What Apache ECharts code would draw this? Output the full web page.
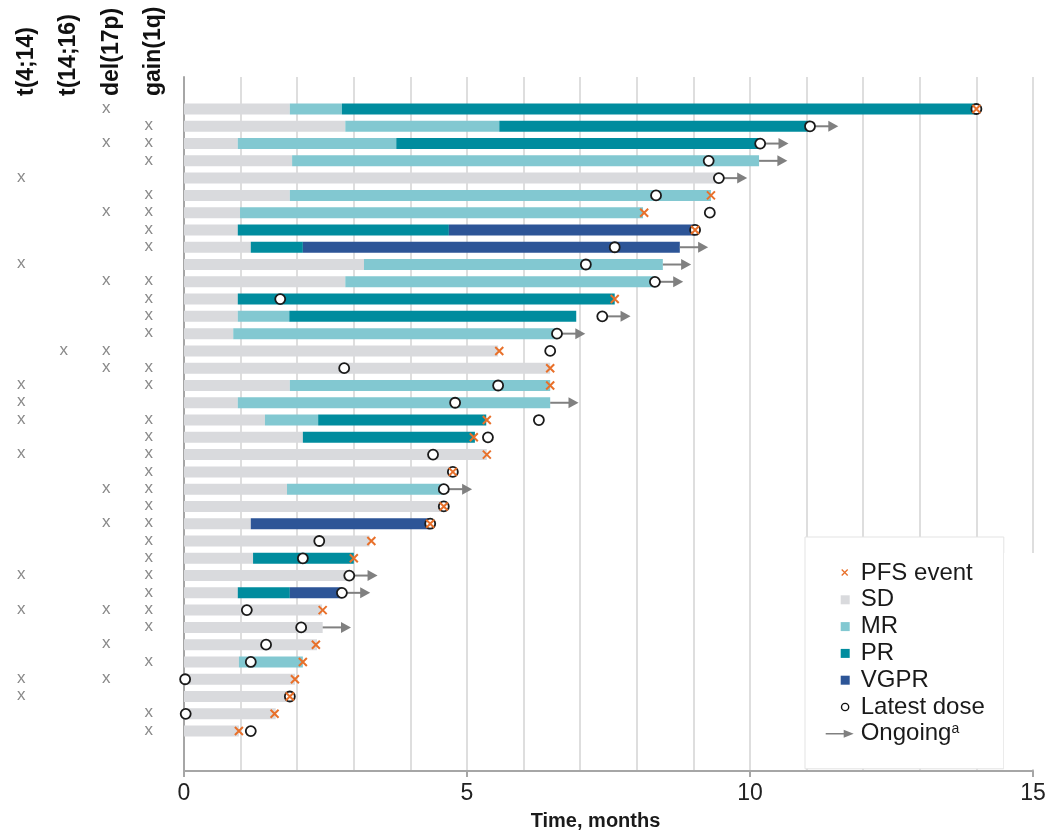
<!DOCTYPE html>
<html lang="en">
<head>
<meta charset="UTF-8">
<title>Swimmer plot</title>
<style>
  html, body { margin: 0; padding: 0; background: #fff; }
  #main { width: 1048px; height: 833px; }
</style>
</head>
<body>
<div id="main"></div>
<script src="https://cdn.jsdelivr.net/npm/echarts@6/dist/echarts.min.js"></script>
<script>
// one entry per patient, top row first; times in months, null = not reached
var sdEnd   = [1.87, 2.85, 0.95, 1.91, 9.45, 1.87, 0.99, 0.95, 1.18, 3.18, 2.85, 0.95, 0.95, 0.87, 5.55, 6.47, 1.87, 0.95, 1.43,
               2.10, 5.35, 4.75, 1.82, 4.59, 1.18, 3.28, 1.22, 2.92, 0.95, 2.44, 2.45, 2.35, 0.97, 1.96, 1.87, 1.62, 0.97];
var mrEnd   = [2.79, 5.57, 3.75, 10.16, null, 9.31, 8.11, null, null, 8.46, 8.32, null, 1.86, 6.59, null, null, 6.47, 6.47, 2.37,
               null, null, null, 4.59, null, null, null, null, null, null, null, null, null, 2.10, null, null, null, null];
var prEnd   = [14.0, 11.06, 10.18, null, null, null, null, 4.68, 2.10, null, null, 7.61, 6.93, null, null, null, null, null, 5.34,
               5.14, null, null, null, null, null, null, 3.0, null, 1.87, null, null, null, null, null, null, null, null];
var vgprEnd = [null, null, null, null, null, null, null, 9.03, 8.76, null, null, null, null, null, null, null, null, null, null,
               null, null, null, null, null, 4.35, null, null, null, 2.79, null, null, null, null, null, null, null, null];
var pfsEvent   = [14.0, null, null, null, null, 9.31, 8.13, 9.03, null, null, null, 7.61, null, null, 5.57, 6.47, 6.47, null, 5.35,
                  5.12, 5.35, 4.75, null, 4.59, 4.35, 3.31, 3.0, null, null, 2.45, null, 2.33, 2.10, 1.96, 1.87, 1.60, 0.97];
var latestDose = [14.0, 11.06, 10.18, 9.27, 9.45, 8.34, 9.29, 9.03, 7.61, 7.10, 8.32, 1.70, 7.39, 6.59, 6.47, 2.83, 5.55, 4.79, 6.27,
                  5.37, 4.40, 4.75, 4.59, 4.59, 4.35, 2.39, 2.10, 2.92, 2.79, 1.11, 2.07, 1.45, 1.18, 0.02, 1.87, 0.03, 1.18];
var ongoing    = [0, 1, 1, 1, 1, 0, 0, 0, 1, 1, 1, 0, 1, 1, 0, 0, 0, 1, 0,
                  0, 0, 0, 1, 0, 0, 0, 0, 1, 1, 0, 1, 0, 0, 0, 0, 0, 0];

// cytogenetics
var t414   = [0, 0, 0, 0, 1, 0, 0, 0, 0, 1, 0, 0, 0, 0, 0, 0, 1, 1, 1, 0, 1, 0, 0, 0, 0, 0, 0, 1, 0, 1, 0, 0, 0, 1, 1, 0, 0];
var t1416  = [0, 0, 0, 0, 0, 0, 0, 0, 0, 0, 0, 0, 0, 0, 1, 0, 0, 0, 0, 0, 0, 0, 0, 0, 0, 0, 0, 0, 0, 0, 0, 0, 0, 0, 0, 0, 0];
var del17p = [1, 0, 1, 0, 0, 0, 1, 0, 0, 0, 1, 0, 0, 0, 1, 1, 0, 0, 0, 0, 0, 0, 1, 0, 1, 0, 0, 0, 0, 1, 0, 1, 0, 1, 0, 0, 0];
var gain1q = [0, 1, 1, 1, 0, 1, 1, 1, 1, 0, 1, 1, 1, 1, 0, 1, 1, 0, 1, 1, 1, 1, 1, 1, 1, 1, 1, 1, 1, 1, 1, 0, 1, 0, 0, 1, 1];
var geneLabels = ['t(4;14)', 't(14;16)', 'del(17p)', 'gain(1q)'];

var responses = ['SD', 'MR', 'PR', 'VGPR'];
var colors = { SD: '#d9dadd', MR: '#82c8d1', PR: '#008c9e', VGPR: '#2d5597' };

var FONT = "'Liberation Sans', Arial, Helvetica, sans-serif";
var rowPx = 17.28, firstRowY = 109, gridTop = 77, gridBottom = 62, geneTop = 100;
var nRows = sdEnd.length;
var yMax = (833 - gridBottom - firstRowY) / rowPx;

// build bar segments per response, arrows, markers
var segs = { SD: [], MR: [], PR: [], VGPR: [] };
var arrows = [], pfsPts = [], dosePts = [], geneMarks = [];
var ends = { MR: mrEnd, PR: prEnd, VGPR: vgprEnd };
for (var i = 0; i < nRows; i++) {
    var cur = sdEnd[i];
    segs.SD.push([i, 0, cur]);
    ['MR', 'PR', 'VGPR'].forEach(function (r) {
        var e = ends[r][i];
        if (e != null) { segs[r].push([i, cur, e]); cur = e; }
    });
    if (ongoing[i]) {
        var s = Math.max(cur, latestDose[i]);
        arrows.push([i, s, s + 0.5]);
    }
    if (pfsEvent[i] != null) pfsPts.push([pfsEvent[i], i]);
    dosePts.push([latestDose[i], i]);
    [t414, t1416, del17p, gain1q].forEach(function (arr, c) {
        if (arr[i]) geneMarks.push([c, i]);
    });
}

function renderBar(params, api) {
    var p0 = api.coord([api.value(1), api.value(0)]);
    var p1 = api.coord([api.value(2), api.value(0)]);
    var h = 11;
    return {
        type: 'rect',
        shape: { x: p0[0], y: p0[1] - h / 2, width: p1[0] - p0[0], height: h },
        style: { fill: api.visual('color') }
    };
}

function renderArrow(params, api) {
    var a = api.coord([api.value(1), api.value(0)]);
    var b = api.coord([api.value(2), api.value(0)]);
    return {
        type: 'group',
        children: [
            { type: 'line', shape: { x1: a[0], y1: a[1], x2: b[0] - 8, y2: b[1] },
              style: { stroke: '#808080', lineWidth: 2 } },
            { type: 'polygon', shape: { points: [[b[0] - 10, b[1] - 5.5], [b[0], b[1]], [b[0] - 10, b[1] + 5.5]] },
              style: { fill: '#808080' } }
        ]
    };
}

function renderGene(params, api) {
    var p = api.coord([api.value(0), api.value(1)]);
    return {
        type: 'text', x: p[0], y: p[1] - 1,
        style: { text: 'x', fill: '#8a8a8a', font: '17px ' + FONT, align: 'center', verticalAlign: 'middle' }
    };
}

var series = responses.map(function (r) {
    return {
        name: r, type: 'custom', renderItem: renderBar,
        xAxisIndex: 0, yAxisIndex: 0, z: 2,
        itemStyle: { color: colors[r] },
        encode: { x: [1, 2], y: 0 },
        data: segs[r]
    };
});
series.push({
    name: 'Ongoing', type: 'custom', renderItem: renderArrow, z: 2,
    xAxisIndex: 0, yAxisIndex: 0,
    itemStyle: { color: '#808080' },
    encode: { x: [1, 2], y: 0 },
    data: arrows
});
series.push({
    name: 'Latest dose', type: 'scatter', z: 3,
    xAxisIndex: 0, yAxisIndex: 0,
    symbol: 'circle', symbolSize: 10,
    itemStyle: { color: '#ffffff', borderColor: '#1a1a1a', borderWidth: 1.8, opacity: 1 },
    data: dosePts
});
series.push({
    name: 'PFS event', type: 'scatter', z: 4,
    xAxisIndex: 0, yAxisIndex: 0,
    symbol: 'path://M0,0L10,10M10,0L0,10', symbolSize: 8,
    itemStyle: { color: 'rgba(0,0,0,0)', borderColor: '#e8702a', borderWidth: 2, opacity: 1 },
    data: pfsPts
});
series.push({
    name: 'genes', type: 'custom', renderItem: renderGene,
    xAxisIndex: 1, yAxisIndex: 1,
    encode: { x: 0, y: 1 },
    data: geneMarks
});

var box = 'path://M0,0M30,10';
var legendData = [
    { name: 'PFS event', icon: box + 'M16,1.5L22,7.5M22,1.5L16,7.5',
      itemStyle: { color: 'rgba(0,0,0,0)', borderColor: '#e8702a', borderWidth: 1.3 } },
    { name: 'SD', icon: box + 'M15,0.5H24V9.5H15Z', itemStyle: { color: colors.SD, borderWidth: 0 } },
    { name: 'MR', icon: box + 'M15,0.5H24V9.5H15Z', itemStyle: { color: colors.MR, borderWidth: 0 } },
    { name: 'PR', icon: box + 'M15,0.5H24V9.5H15Z', itemStyle: { color: colors.PR, borderWidth: 0 } },
    { name: 'VGPR', icon: box + 'M15,0.5H24V9.5H15Z', itemStyle: { color: colors.VGPR, borderWidth: 0 } },
    { name: 'Latest dose', icon: box + 'M23,5A3.6,3.6 0 1 1 15.8,5A3.6,3.6 0 1 1 23,5Z',
      itemStyle: { color: '#ffffff', borderColor: '#111111', borderWidth: 1.4 } },
    { name: 'Ongoing', icon: box + 'M0,4.3H19V5.7H0ZM18,1L28,5L18,9Z',
      itemStyle: { color: '#808080', borderWidth: 0 } }
];

var gridStyle = { color: '#d6d6d6', width: 1.6 };

var myChart = echarts.init(document.getElementById('main'));
var option = {
    backgroundColor: '#ffffff',
    animation: false,
    textStyle: { fontFamily: FONT },
    grid: [
        { left: 184, right: 15, top: gridTop, bottom: gridBottom, outerBoundsMode: 'none' },
        { left: 0, width: 170, top: geneTop, bottom: gridBottom, outerBoundsMode: 'none' },
        { left: 5, width: 170, top: geneTop, bottom: gridBottom, outerBoundsMode: 'none' }
    ],
    xAxis: [
        {
            type: 'value', gridIndex: 0, min: 0, max: 15, interval: 5,
            axisLine: { show: true, onZero: false, lineStyle: { color: '#a6a6a6', width: 2 } },
            axisTick: { show: true, length: 6, lineStyle: { color: '#a6a6a6', width: 2 } },
            axisLabel: { fontSize: 23, color: '#222', margin: 11, fontFamily: FONT },
            splitLine: { show: true, lineStyle: gridStyle },
            minorTick: { show: false, splitNumber: 5 },
            minorSplitLine: { show: true, lineStyle: gridStyle },
            name: 'Time, months', nameLocation: 'middle', nameGap: 40,
            nameTextStyle: { fontSize: 20, fontWeight: 'bold', color: '#1a1a1a', fontFamily: FONT, padding: [0, 26, 0, 0] }
        },
        {
            type: 'category', gridIndex: 1, data: geneLabels,
            axisLine: { show: false, onZero: false }, axisTick: { show: false }, axisLabel: { show: false }, splitLine: { show: false }
        },
        {
            type: 'category', gridIndex: 2, position: 'top', data: geneLabels,
            axisLine: { show: false, onZero: false }, axisTick: { show: false }, splitLine: { show: false },
            axisLabel: { rotate: -90, interval: 0, margin: 4, fontSize: 23, fontWeight: 'bold', color: '#111', fontFamily: FONT }
        }
    ],
    yAxis: [
        {
            type: 'value', gridIndex: 0, inverse: true,
            min: -(firstRowY - gridTop) / rowPx, max: yMax,
            axisLine: { show: true, onZero: false, lineStyle: { color: '#a6a6a6', width: 2 } },
            axisTick: { show: false }, axisLabel: { show: false }, splitLine: { show: false }
        },
        {
            type: 'value', gridIndex: 1, inverse: true,
            min: -(firstRowY - geneTop) / rowPx, max: yMax,
            axisLine: { show: false, onZero: false }, axisTick: { show: false }, axisLabel: { show: false }, splitLine: { show: false }
        },
        {
            type: 'value', gridIndex: 2, show: false
        }
    ],
    legend: {
        orient: 'vertical', left: 805, top: 537,
        padding: [24, 19, 23, 20],
        itemWidth: 30, itemHeight: 10, itemGap: 2.8,
        selectedMode: false,
        backgroundColor: '#ffffff', borderColor: '#e3e3e3', borderWidth: 1,
        textStyle: {
            fontSize: 24, color: '#1a1a1a', fontFamily: FONT,
            rich: { sup: { fontSize: 14, verticalAlign: 'top', color: '#1a1a1a', fontFamily: FONT } }
        },
        formatter: function (name) { return name === 'Ongoing' ? 'Ongoing{sup|a}' : name; },
        data: legendData
    },
    graphic: [
        // the 15-month grid line stops above the legend in the original
        { type: 'rect', z: 50, shape: { x: 1004, y: 553, width: 40, height: 216 }, style: { fill: '#ffffff' } }
    ],
    series: series
};
myChart.setOption(option);
</script>
</body>
</html>
